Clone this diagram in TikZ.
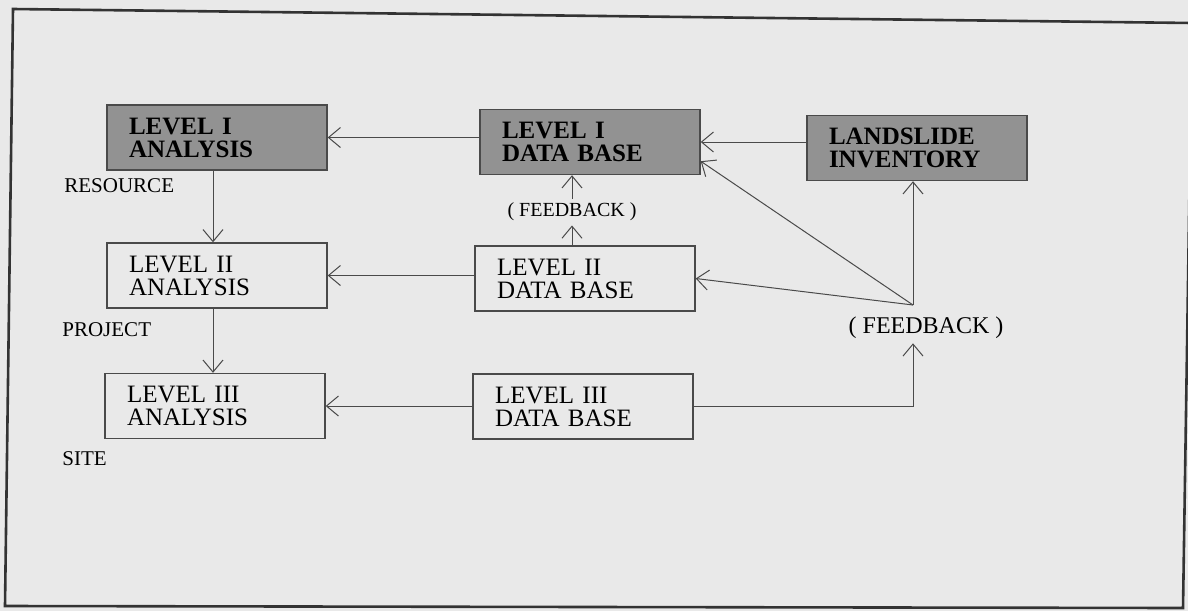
\documentclass[tikz,border=0pt]{standalone}
\usepackage{fontspec}
\setmainfont{Liberation Serif}
\usepackage{tikz}
\usetikzlibrary{positioning,arrows.meta,calc}
\definecolor{paper}{HTML}{E9E9E9}
\definecolor{shade}{HTML}{929292}
\definecolor{ink}{HTML}{4A4A4A}

\begin{document}
\begin{tikzpicture}[x=0.5pt, y=-0.5pt,
    lvl/.style={draw=ink, line width=0.7pt, minimum width=110pt, minimum height=32.5pt,
      text width=88pt, inner xsep=11pt, align=left, font=\fontsize{12.5}{11.5}\selectfont},
    lvldark/.style={lvl, fill=shade, font=\fontsize{12.5}{11.5}\selectfont\bfseries},
    tag/.style={anchor=west, inner sep=0pt, font=\fontsize{10.5}{12}\selectfont},
    arr/.style={draw=ink, line width=0.5pt, -{Straight Barb[length=6pt, width=10pt]}}]
        \useasboundingbox (0,0) rectangle (1188,611);
        \fill[paper] (0,0) rectangle (1188,611);

        % Frame
        \draw[black!80, line width=1.3pt] (13,9) -- (1192,23) -- (1183,608) -- (5,606) -- cycle;

        % Analysis column
        \node[lvldark] (a1) at (217,137.5) {LEVEL I\\ANALYSIS};
        \node[lvl] (a2) at (217,275.5) {LEVEL II\\ANALYSIS};
        \node[lvl] (a3) at (215,406) {LEVEL III\\ANALYSIS};

        % Data base column
        \node[lvldark] (d1) at (590,142) {LEVEL I\\DATA BASE};
        \node[lvl] (d2) at (585,278.5) {LEVEL II\\DATA BASE};
        \node[lvl] (d3) at (583,406.5) {LEVEL III\\DATA BASE};

        \node[lvldark] (inv) at (917,148) {LANDSLIDE\\INVENTORY};

        % Scale labels
        \node[tag] (res) at (64,186) {RESOURCE};
        \node[tag] (proj) at (62,330) {PROJECT};
        \node[tag] (site) at (62,459) {SITE};

        % Feedback
        \node[font=\fontsize{10}{12}\selectfont, inner sep=2pt] (fb1) at (572,212) {( FEEDBACK )};
        \node[font=\fontsize{12}{12}\selectfont, inner sep=2pt] (fb2) at (926,328) {( FEEDBACK )};
        \coordinate (fan) at (913,305);

        % Arrows
        \draw[arr] ([xshift=-2pt]a1.south) -- ([xshift=-2pt]a1.south |- a2.north);
        \draw[arr] ([xshift=-2pt]a2.south) -- ([xshift=-2pt]a2.south |- a3.north);
        \draw[arr] (d1.west |- a1.east) -- (a1.east);
        \draw[arr] (inv.west |- d1.east) -- (d1.east);
        \draw[arr] (d2.west |- a2.east) -- (a2.east);
        \draw[arr] (d3.west |- a3.east) -- (a3.east);
        \draw[arr] (d2.north -| fb1) -- (fb1.south);
        \draw[arr] (fb1.north) -- (d1.south -| fb1);
        \draw[arr] (fan) -- ([yshift=7pt]d1.south east);
        \draw[arr] (fan) -- (d2.east);
        \draw[arr] (fan) -- (fan |- inv.south);
        \draw[arr] (d3.east) -| (fan |- fb2.south);
      \end{tikzpicture}
\end{document}
